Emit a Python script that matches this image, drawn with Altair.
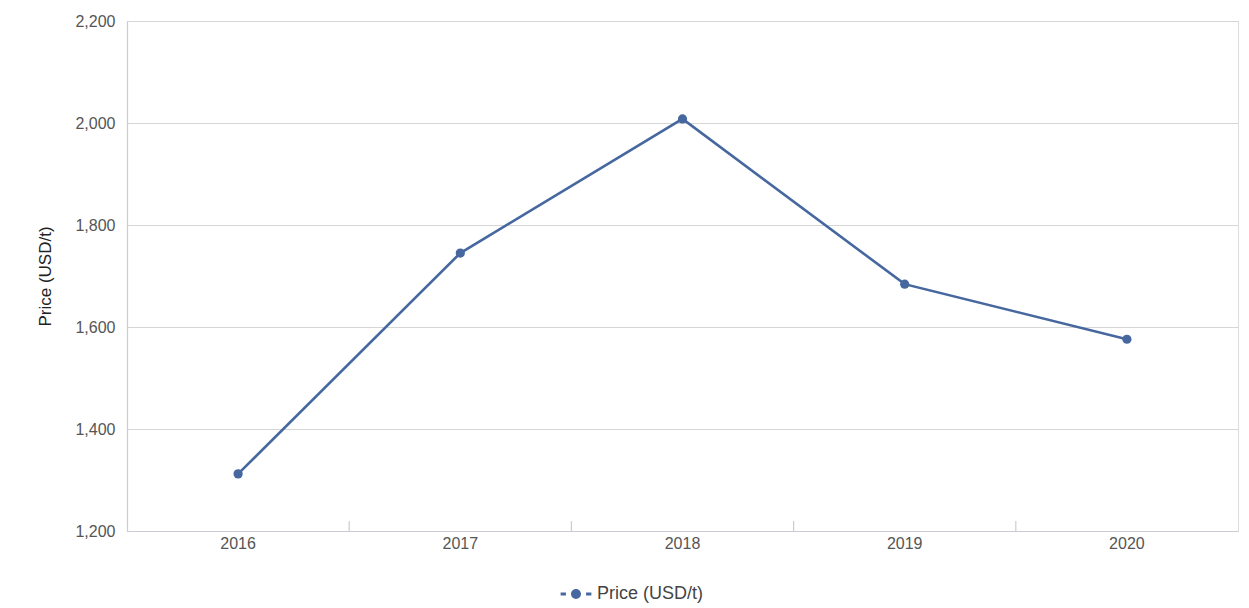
import altair as alt
import pandas as pd

years = ["2016", "2017", "2018", "2019", "2020"]
prices = [1312, 1745, 2008, 1684, 1576]
series = "Price (USD/t)"
y_ticks = [1200, 1400, 1600, 1800, 2000, 2200]
band_edge_years = ["2017", "2018", "2019", "2020"]

df = pd.DataFrame({"year": years, "price": prices, "series": [series] * len(years)})
edges = pd.DataFrame({"year": band_edge_years})

FONT = "Liberation Sans"
LINE = "#46689f"

x_enc = alt.X(
    "year:N",
    sort=years,
    scale=alt.Scale(domain=years, paddingInner=0, paddingOuter=0),
    axis=alt.Axis(
        title=None, labelAngle=0, labelAlign="center", ticks=False, labelPadding=12,
        labelFontSize=16, labelColor="#555555", labelFont=FONT,
        domainColor="#c9ccd6", domainWidth=1.2, grid=False,
    ),
)

y_enc = alt.Y(
    "price:Q",
    scale=alt.Scale(domain=[1200, 2200], nice=False, zero=False),
    axis=alt.Axis(
        values=y_ticks, format=",d", title="Price (USD/t)", ticks=False,
        labelPadding=12, labelFontSize=16, labelColor="#555555", labelFont=FONT,
        titleFont=FONT, titleFontSize=17, titleFontWeight="normal", titleColor="#222222",
        titlePadding=20, gridColor="#d6d6d6", gridWidth=1.2,
        domainColor="#c9ccd6", domainWidth=1.2,
    ),
)

legend_symbol = (
    "M-1.3,-0.12h0.45v0.24h-0.45z "
    "M0.85,-0.12h0.45v0.24h-0.45z "
    "M0.42,0 A0.42,0.42 0 1,1 -0.42,0 A0.42,0.42 0 1,1 0.42,0z"
)

color_enc = alt.Color(
    "series:N",
    scale=alt.Scale(range=[LINE]),
    legend=alt.Legend(
        title=None, orient="none", legendX=437, legendY=561,
        symbolType=legend_symbol, symbolSize=560, symbolStrokeWidth=0,
        symbolFillColor=LINE, labelFont=FONT, labelFontSize=18, labelColor="#444444",
        labelOffset=9,
    ),
)

line = alt.Chart(df).mark_line(strokeWidth=2.6, color=LINE).encode(
    x=x_enc, y=y_enc, color=color_enc
)
points = alt.Chart(df).mark_circle(size=85, opacity=1, color=LINE).encode(
    x=alt.X("year:N", sort=years), y="price:Q", color=alt.Color("series:N", legend=None)
)
ticks = alt.Chart(edges).mark_rule(color="#c9ccd6", strokeWidth=1.2).encode(
    x=alt.X("year:N", sort=years, bandPosition=0),
    y=alt.value(500),
    y2=alt.value(510),
)

chart = (
    alt.layer(ticks, line, points)
    .properties(width=1111, height=510, autosize=alt.AutoSizeParams(type="none"),
                padding={"left": 127, "top": 21, "right": 11, "bottom": 77})
    .configure_view(stroke=None)
    .configure(background="white")
)

chart.save("out.html", embed_options={"renderer": "svg", "actions": False})
